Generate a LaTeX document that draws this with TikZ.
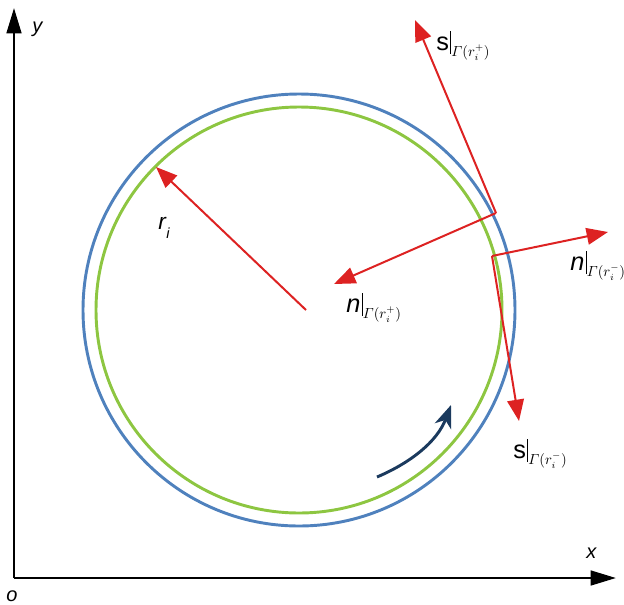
\documentclass[tikz,border=0pt]{standalone}
\usepackage{amsmath}
\usepackage{fontspec}
\setmainfont{Liberation Sans}
\usetikzlibrary{arrows.meta}
\definecolor{cblue}{HTML}{4F81BD}
\definecolor{cgreen}{HTML}{8DC641}
\definecolor{cred}{HTML}{DD2222}
\definecolor{cnavy}{HTML}{1B3A5E}
\newcommand\evlab[2]{#1\kern1pt\rule[-3pt]{0.8pt}{17pt}\raisebox{-5pt}{\fontsize{10.5}{10.5}\selectfont$\varGamma(r_i^{#2})$}}
\tikzset{
  axis/.style={line width=1.9pt,-{Triangle[length=19pt,width=11pt]}},
  redarrow/.style={cred,line width=1.5pt,-{Triangle[length=16pt,width=12.5pt]}},
  lab/.style={anchor=base west,inner sep=0pt,font=\fontsize{19}{19}\selectfont},
  axlab/.style={anchor=base west,inner sep=0pt,font=\fontsize{15}{15}\selectfont\itshape},
}
\begin{document}
\begin{tikzpicture}[x=0.75pt,y=-0.75pt]
\useasboundingbox (0,0) rectangle (624,604);
\coordinate (O) at (14,578);
\coordinate (Y) at (14,8);
\coordinate (X) at (616,578);
\draw[axis] (O) -- (Y);
\draw[axis] (O) -- (X);
\node[axlab] (ylab) at (32,32) {y};
\node[axlab] (xlab) at (586,558) {x};
\node[axlab] (olab) at (6,601) {o};
% circles
\coordinate (C) at (299,310);
\draw[cblue,line width=2.2pt] (C) circle[radius=216];
\draw[cgreen,line width=2.2pt] (C) circle[radius=203];
% radius arrow
\coordinate (R0) at (306,310);
\coordinate (R1) at (156,167);
\draw[redarrow] (R0) -- (R1);
\node[anchor=base west,inner sep=0pt,font=\fontsize{17}{17}\selectfont\itshape] (rlab) at (158,229) {r};
\node[anchor=base west,inner sep=0pt,font=\fontsize{11}{11}\selectfont\itshape] (ilab) at (166,238) {i};
% outer point
\coordinate (P) at (496,213);
\coordinate (Ptip) at (334,284);
\coordinate (Stip) at (415,20);
\draw[redarrow] (P) -- (Ptip);
\draw[redarrow] (P) -- (Stip);
\node[lab] (nplus) at (346,312) {\itshape\evlab{n}{+}};
\node[lab] (splus) at (436,50) {\evlab{s}{+}};
% inner point
\coordinate (Q) at (492,256);
\coordinate (Qn) at (608,232);
\coordinate (Qs) at (519,421);
\draw[redarrow] (Q) -- (Qn);
\draw[redarrow] (Q) -- (Qs);
\node[lab] (nminus) at (570,270) {\itshape\evlab{n}{-}};
\node[lab] (sminus) at (513,458) {\evlab{s}{-}};
% rotation arrow
\coordinate (A0) at (377,477);
\coordinate (A1) at (451,405);
\draw[cnavy,line width=2.2pt,-{Stealth[length=17pt,width=13pt,inset=5pt]}] (A0) .. controls (410,463) and (437,442) .. (A1);
\end{tikzpicture}
\end{document}
